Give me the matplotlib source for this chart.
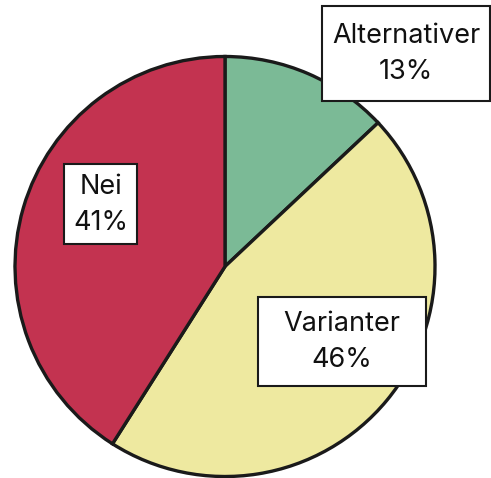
import matplotlib.pyplot as plt
from matplotlib.patches import Rectangle

labels = ["Alternativer", "Varianter", "Nei"]
shares = [13, 46, 41]
colors = ["#7BBA96", "#EEE9A0", "#C33350"]

# label box centres and sizes in pixel space (x, y, w, h)
boxes = [(406, 53, 168, 95), (342, 341, 168, 89), (101, 204, 73, 80)]

plt.rcParams['font.family'] = ['Inter', 'DejaVu Sans']

fig = plt.figure(figsize=(4.91, 4.78), dpi=100)
ax = fig.add_axes([0, 0, 1, 1])

# y axis runs downward (pixel space), so start at 270 and go "counterclock"
# to get a visually clockwise pie starting at 12 o'clock
ax.pie(shares, colors=colors, startangle=270, counterclock=True,
       center=(225, 266.5), radius=210, frame=True,
       wedgeprops=dict(edgecolor='#1a1a1a', linewidth=2.4))
ax.set_xlim(0, 491)
ax.set_ylim(478, 0)
ax.axis('off')

for lab, val, (cx, cy, w, h) in zip(labels, shares, boxes):
    ax.add_patch(Rectangle((cx - w / 2, cy - h / 2), w, h, facecolor='white',
                           edgecolor='#1a1a1a', linewidth=1.5, zorder=5))
    ax.text(cx, cy + 1, f"{lab}\n{val}%", ha='center', va='center', fontsize=19.5,
            linespacing=1.5, color='#111111', zorder=6)

plt.savefig("out.png", dpi=100)
